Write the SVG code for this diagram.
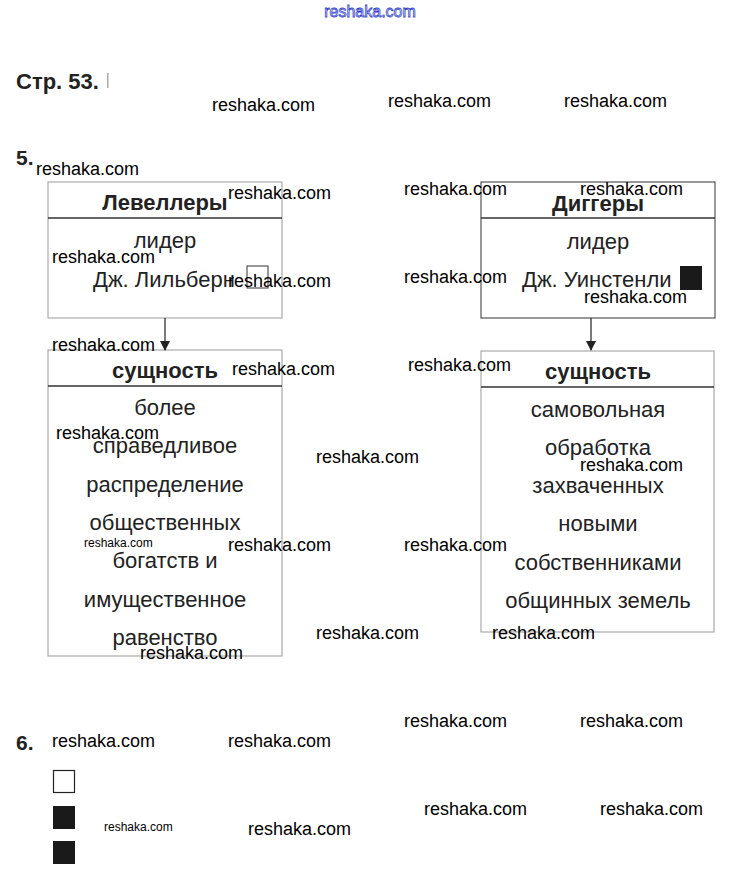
<svg xmlns="http://www.w3.org/2000/svg" width="740" height="883" viewBox="0 0 740 883">
<defs>
<marker id="arr" viewBox="0 0 10 10" refX="9" refY="5" markerWidth="10" markerHeight="10" markerUnits="userSpaceOnUse" orient="auto"><path d="M0,0 L10,5 L0,10 z" fill="#222"/></marker>
<style>
.wm{font-family:"Liberation Sans",Arial,sans-serif;font-size:18px;fill:#000}
.wms{font-family:"Liberation Sans",Arial,sans-serif;font-size:12px;fill:#000}
.box{fill:#fff;stroke:#999;stroke-width:1}
.div{stroke:#333;stroke-width:1.5}
.ttl{font-family:"Liberation Sans",Arial,sans-serif;font-size:22px;font-weight:bold;fill:#222;text-anchor:middle}
.txt{font-family:"Liberation Sans",Arial,sans-serif;font-size:22px;fill:#222;text-anchor:middle}
.hd{font-family:"Liberation Sans",Arial,sans-serif;font-size:21px;font-weight:bold;fill:#222}
.con{stroke:#222;stroke-width:1.2;fill:none}
</style>
</defs>
<rect width="740" height="883" fill="#fff"/>
<text x="370" y="17" text-anchor="middle" style="font-family:'Liberation Sans',Arial,sans-serif;font-size:16px;fill:#fff;stroke:#3344cc;stroke-width:0.8">reshaka.com</text>
<text x="16" y="89" class="hd" style="font-size:22px">Стр. 53.</text>
<rect x="107" y="73" width="1.5" height="15" fill="#aaa"/>
<text x="16" y="165" class="hd">5.</text>
<text x="16" y="750" class="hd">6.</text>

<g id="levellers">
<rect class="box" x="48" y="182" width="234" height="136"/>
<line class="div" x1="48" y1="218" x2="282" y2="218"/>
<text class="ttl" x="165" y="210">Левеллеры</text>
<text class="txt" x="165" y="248">лидер</text>
<text class="txt" x="93" y="287" style="text-anchor:start">Дж. Лильберн</text>
<rect x="247" y="266" width="21" height="22" fill="none" stroke="#333" stroke-width="1"/>
</g>
<g id="levellers-essence">
<rect class="box" x="48" y="350" width="234" height="306"/>
<line class="div" x1="48" y1="386" x2="282" y2="386"/>
<text class="ttl" x="165" y="378">сущность</text>
<text class="txt" x="165" y="415">более</text>
<text class="txt" x="165" y="453">справедливое</text>
<text class="txt" x="165" y="492">распределение</text>
<text class="txt" x="165" y="530">общественных</text>
<text class="txt" x="165" y="568">богатств и</text>
<text class="txt" x="165" y="607">имущественное</text>
<text class="txt" x="165" y="645">равенство</text>
</g>
<g id="diggers">
<rect class="box" x="481" y="182" width="234" height="136" style="stroke:#333"/>
<line class="div" x1="481" y1="218" x2="715" y2="218"/>
<text class="ttl" x="598" y="211">Диггеры</text>
<text class="txt" x="598" y="249">лидер</text>
<text class="txt" x="522" y="287" style="text-anchor:start">Дж. Уинстенли</text>
<rect x="680" y="266" width="22" height="24" fill="#1a1a1a"/>
</g>
<g id="diggers-essence">
<rect class="box" x="481" y="351" width="233" height="281"/>
<line class="div" x1="481" y1="387" x2="714" y2="387"/>
<text class="ttl" x="598" y="379">сущность</text>
<text class="txt" x="598" y="417">самовольная</text>
<text class="txt" x="598" y="455">обработка</text>
<text class="txt" x="598" y="493">захваченных</text>
<text class="txt" x="598" y="531">новыми</text>
<text class="txt" x="598" y="570">собственниками</text>
<text class="txt" x="598" y="608">общинных земель</text>
</g>
<g id="connectors">
<line class="con" x1="165" y1="318" x2="165" y2="350" marker-end="url(#arr)"/>
<line class="con" x1="591" y1="318" x2="591" y2="350" marker-end="url(#arr)"/>
</g>
<g id="checkboxes">
<rect x="53.5" y="770.5" width="21" height="22" fill="#fff" stroke="#222" stroke-width="1.2"/>
<rect x="53" y="806" width="22" height="23" fill="#1a1a1a"/>
<rect x="53" y="841" width="22" height="23" fill="#1a1a1a"/>
</g>
<g id="watermarks">
<text class="wm" x="212" y="111">reshaka.com</text>
<text class="wm" x="388" y="107">reshaka.com</text>
<text class="wm" x="564" y="107">reshaka.com</text>
<text class="wm" x="36" y="175">reshaka.com</text>
<text class="wm" x="228" y="199">reshaka.com</text>
<text class="wm" x="404" y="195">reshaka.com</text>
<text class="wm" x="580" y="195">reshaka.com</text>
<text class="wm" x="52" y="263">reshaka.com</text>
<text class="wm" x="228" y="287">reshaka.com</text>
<text class="wm" x="404" y="283">reshaka.com</text>
<text class="wm" x="584" y="303">reshaka.com</text>
<text class="wm" x="52" y="351">reshaka.com</text>
<text class="wm" x="232" y="375">reshaka.com</text>
<text class="wm" x="408" y="371">reshaka.com</text>
<text class="wm" x="56" y="439">reshaka.com</text>
<text class="wm" x="316" y="463">reshaka.com</text>
<text class="wm" x="580" y="471">reshaka.com</text>
<text class="wms" x="84" y="547">reshaka.com</text>
<text class="wm" x="228" y="551">reshaka.com</text>
<text class="wm" x="404" y="551">reshaka.com</text>
<text class="wm" x="316" y="639">reshaka.com</text>
<text class="wm" x="492" y="639">reshaka.com</text>
<text class="wm" x="140" y="659">reshaka.com</text>
<text class="wm" x="404" y="727">reshaka.com</text>
<text class="wm" x="580" y="727">reshaka.com</text>
<text class="wm" x="52" y="747">reshaka.com</text>
<text class="wm" x="228" y="747">reshaka.com</text>
<text class="wm" x="424" y="815">reshaka.com</text>
<text class="wm" x="600" y="815">reshaka.com</text>
<text class="wms" x="104" y="831">reshaka.com</text>
<text class="wm" x="248" y="835">reshaka.com</text>
</g>
</svg>
